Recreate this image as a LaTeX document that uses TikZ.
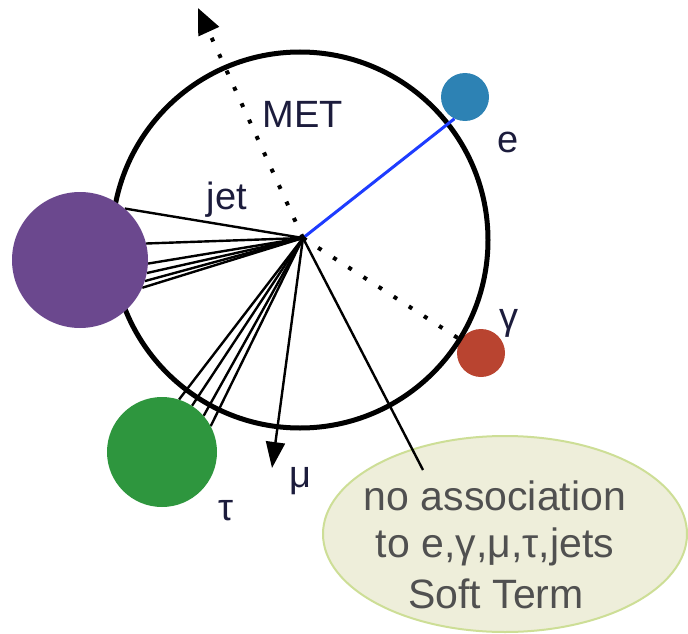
\documentclass[tikz,border=0pt]{standalone}
\usepackage{fontspec}
\setmainfont{Liberation Sans}
\usetikzlibrary{arrows.meta,shapes.geometric}
\definecolor{jetpurple}{RGB}{107,72,142}
\definecolor{taugreen}{RGB}{46,150,62}
\definecolor{eblue}{RGB}{45,130,180}
\definecolor{gred}{RGB}{185,68,48}
\definecolor{trackblue}{RGB}{30,60,255}
\definecolor{bubblefill}{RGB}{238,238,218}
\definecolor{bubbleline}{RGB}{205,222,150}
\definecolor{labelink}{RGB}{28,28,60}
\definecolor{bubbleink}{RGB}{80,80,80}
\tikzset{
  particle/.style={circle,inner sep=0pt,draw=none},
  track/.style={line width=2.4pt,black},
  dotline/.style={line width=4pt,dash pattern=on 4pt off 14pt,black},
  lbl/.style={inner sep=0pt,anchor=base,text=labelink,font=\fontsize{38}{44}\selectfont},
  btext/.style={inner sep=0pt,anchor=base,text=bubbleink,font=\fontsize{41}{48}\selectfont},
}
\begin{document}
\begin{tikzpicture}[x=1pt,y=-1pt]
\useasboundingbox (0,0) rectangle (688,634);
% bubble
\node[ellipse,fill=bubblefill,draw=bubbleline,line width=2pt,minimum width=364pt,minimum height=196pt,inner sep=0pt] (bubble) at (505,534) {};
% origin and free ends
\coordinate (o) at (303,238);
\coordinate (mettip) at (198,8);
\coordinate (mutip) at (272,468);
\coordinate (softend) at (423,470);
% particles
\node[particle,fill=eblue,minimum size=48pt] (e) at (465,97) {};
\node[particle,fill=gred,minimum size=48pt] (g) at (481,353) {};
% detector circle
\node[circle,draw=black,line width=5pt,minimum size=376pt,inner sep=0pt] (det) at (300,240) {};
% jet tracks
\node[particle,minimum size=136pt] (jp) at (80,260) {};
\foreach \a in {49,14,-3,-11,-18,-24} \draw[track] (o) -- (jp.\a);
\node[particle,fill=jetpurple,minimum size=136pt] (jet) at (80,260) {};
% tau tracks
\node[particle,minimum size=110pt] (tp) at (162,452) {};
\foreach \a in {72,57,41,28} \draw[track] (o) -- (tp.\a);
\node[particle,fill=taugreen,minimum size=110pt] (tau) at (162,452) {};
% electron track
\draw[line width=3pt,trackblue] (o) -- (e.244);
% photon (dotted)
\draw[dotline] (o) -- (g);
% MET arrow
\draw[dotline,-{Triangle[length=26pt,width=22pt]}] (o) -- (mettip);
% muon
\draw[track,-{Triangle[length=26pt,width=19pt]}] (o) -- (mutip);
% soft term
\draw[track] (o) -- (softend);
% labels
\node[lbl] (metl) at (303,127) {MET};
\node[lbl] (jetl) at (227,209) {jet};
\node[lbl] (el) at (508,152) {e};
\node[lbl] (gl) at (509,329) {γ};
\node[lbl] (mul) at (300,487) {μ};
\node[lbl] (taul) at (226,520) {τ};
\node[btext] (b1) at (495,510) {no association};
\node[btext] (b2) at (495,557) {to e,γ,μ,τ,jets};
\node[btext] (b3) at (496,608) {Soft Term};
\end{tikzpicture}
\end{document}
